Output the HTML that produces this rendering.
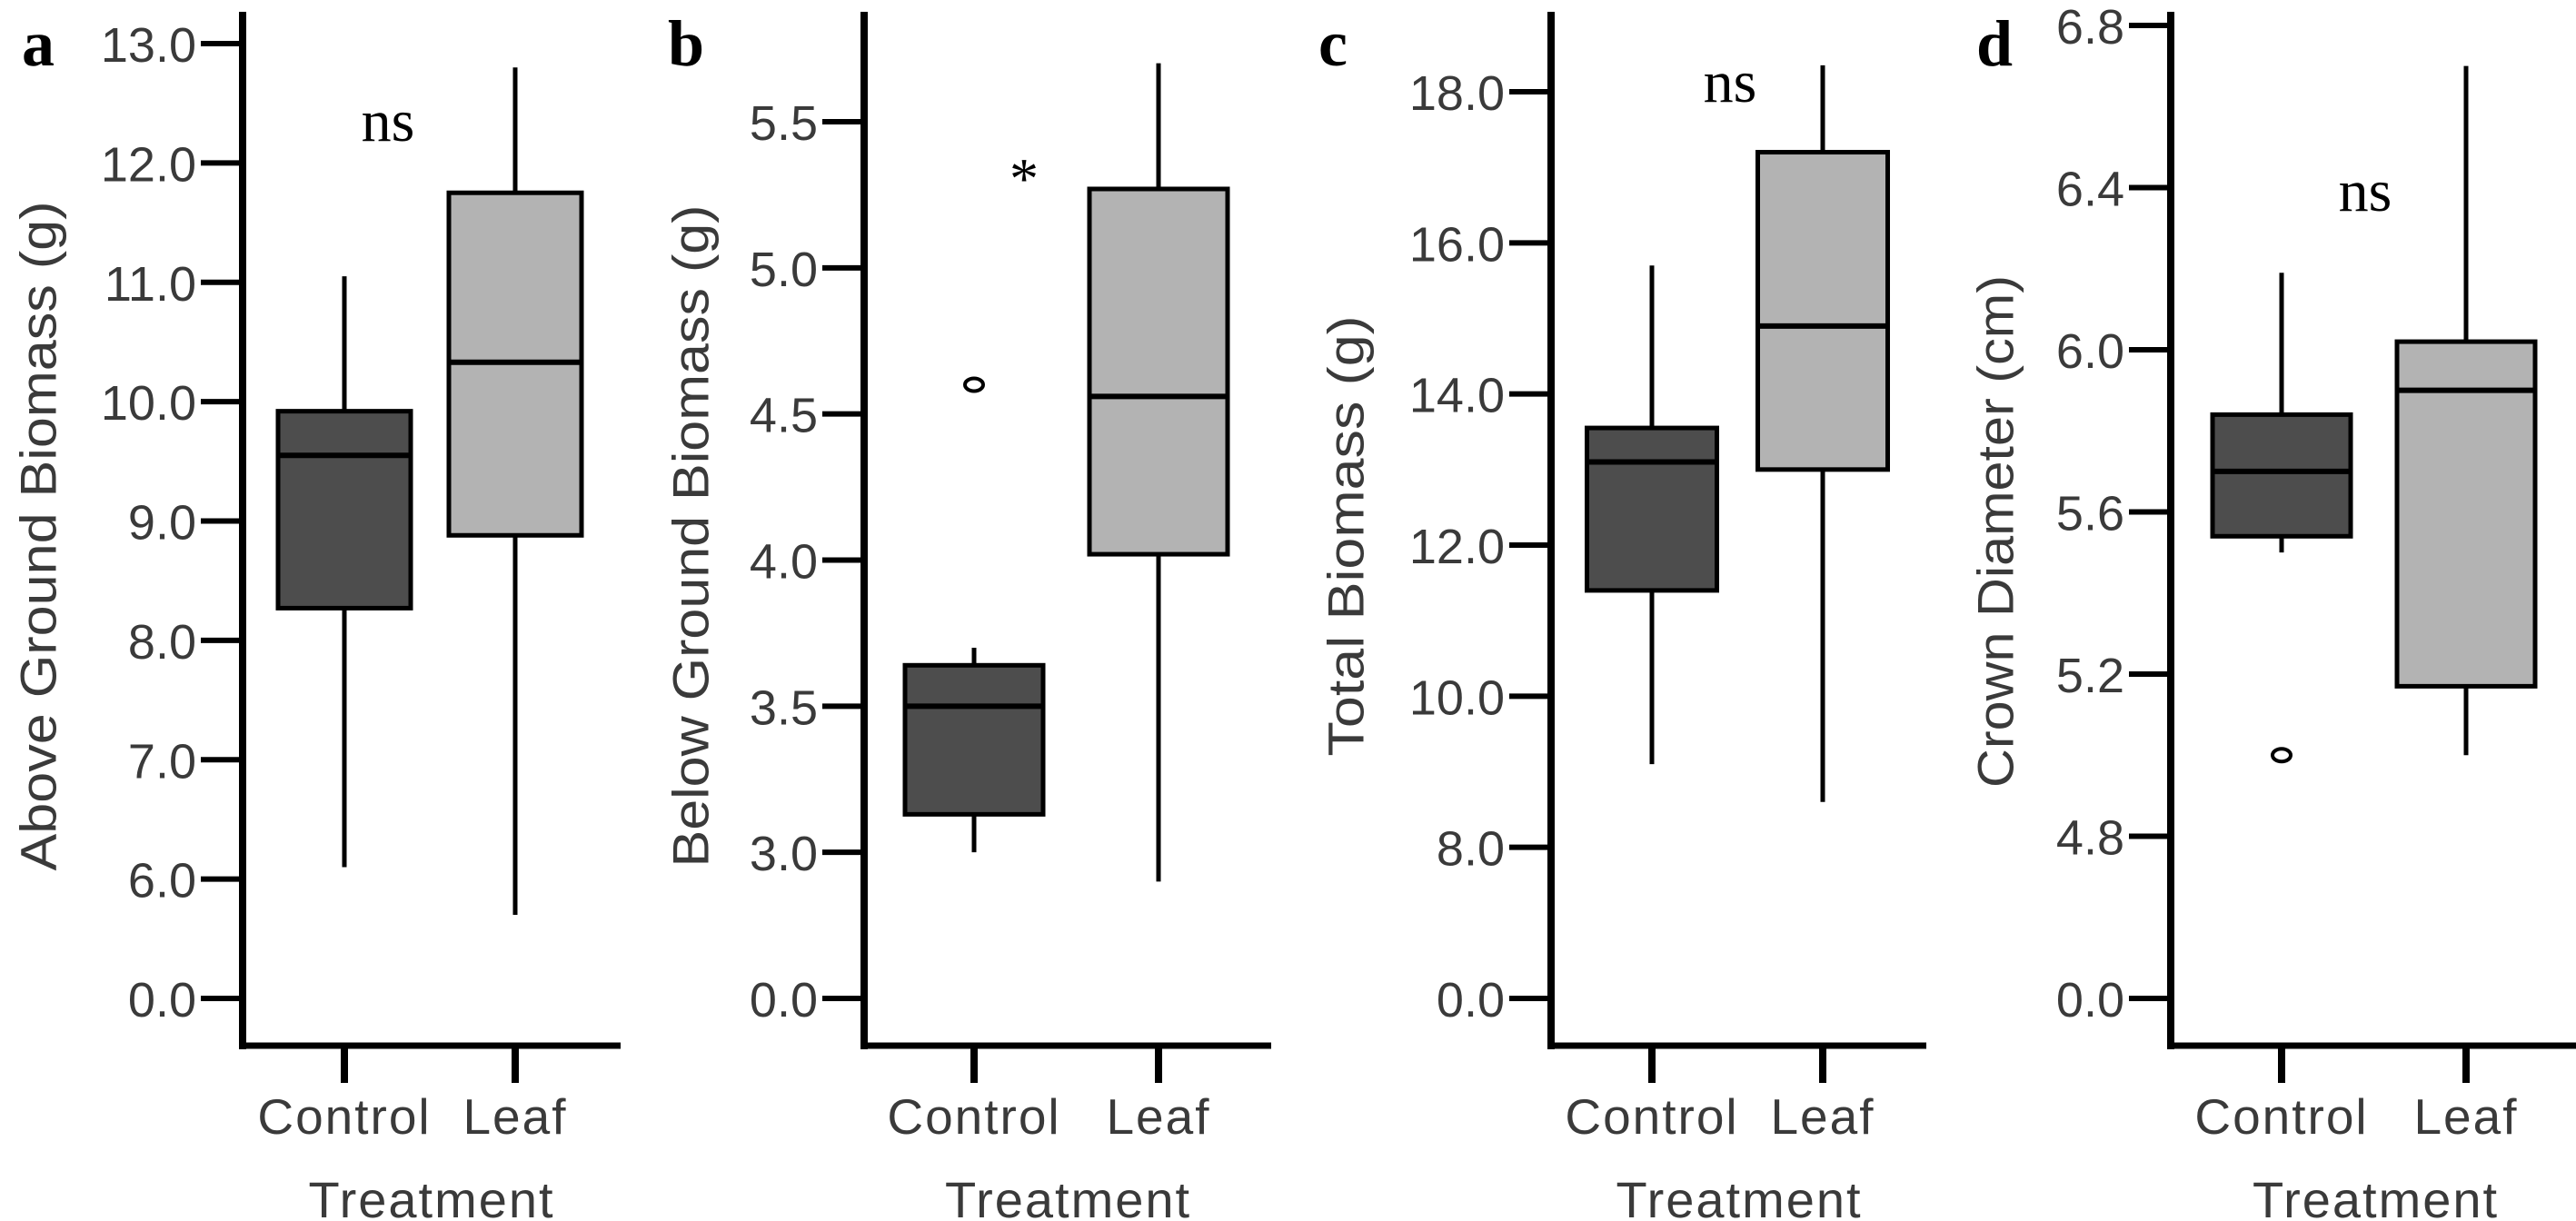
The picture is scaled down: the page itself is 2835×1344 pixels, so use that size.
<!DOCTYPE html>
<html><head><meta charset="utf-8"><style>
html,body{margin:0;padding:0;background:#fff;}
svg{display:block;}
</style></head><body>
<svg id="fig" width="2835" height="1344" viewBox="0 0 2835 1344" xmlns="http://www.w3.org/2000/svg"></svg>
<script>
// ---- data ----
const categories = ["Control", "Leaf"];
const panelLetters = ["a", "b", "c", "d"];
const yTitles = ["Above Ground Biomass (g)", "Below Ground Biomass (g)", "Total Biomass (g)", "Crown Diameter (cm)"];
const sigLabels = ["ns", "*", "ns", "ns"];
const ticksA = [13.0, 12.0, 11.0, 10.0, 9.0, 8.0, 7.0, 6.0, 0.0];
const ticksB = [5.5, 5.0, 4.5, 4.0, 3.5, 3.0, 0.0];
const ticksC = [18.0, 16.0, 14.0, 12.0, 10.0, 8.0, 0.0];
const ticksD = [6.8, 6.4, 6.0, 5.6, 5.2, 4.8, 0.0];
const tickLabelsA = ["13.0","12.0","11.0","10.0","9.0","8.0","7.0","6.0","0.0"];
const tickLabelsB = ["5.5","5.0","4.5","4.0","3.5","3.0","0.0"];
const tickLabelsC = ["18.0","16.0","14.0","12.0","10.0","8.0","0.0"];
const tickLabelsD = ["6.8","6.4","6.0","5.6","5.2","4.8","0.0"];
// [min, q1, median, q3, max] per category
const statsA = [[6.1, 8.27, 9.55, 9.92, 11.05], [5.7, 8.88, 10.33, 11.75, 12.8]];
const statsB = [[3.0, 3.13, 3.5, 3.64, 3.7], [2.9, 4.02, 4.56, 5.27, 5.7]];
const statsC = [[9.1, 11.4, 13.1, 13.55, 15.7], [8.6, 13.0, 14.9, 17.2, 18.35]];
const statsD = [[5.5, 5.54, 5.70, 5.84, 6.19], [5.0, 5.17, 5.9, 6.02, 6.7]];
const outliersA = [[], []];
const outliersB = [[4.6], []];
const outliersC = [[], []];
const outliersD = [[5.0], []];

// ---- layout ----
const NS = "http://www.w3.org/2000/svg";
const svg = document.getElementById("fig");
const fills = ["#4d4d4d", "#b3b3b3"];
const panels = [
  {ticks: ticksA, labels: tickLabelsA, stats: statsA, out: outliersA, axisX: 267, xEnd: 683, topY: 48, cx: [379, 567], bw: 146, letterX: 42, letterY: 72, sigX: 427, sigY: 155, titleX: 42, titleY: 590, titleLen: 737},
  {ticks: ticksB, labels: tickLabelsB, stats: statsB, out: outliersB, axisX: 951, xEnd: 1399, topY: 134, cx: [1072, 1275], bw: 152, letterX: 755, letterY: 72, sigX: 1127, sigY: 200, titleX: 760, titleY: 590, titleLen: 729},
  {ticks: ticksC, labels: tickLabelsC, stats: statsC, out: outliersC, axisX: 1707, xEnd: 2120, topY: 101, cx: [1818, 2006], bw: 143, letterX: 1467, letterY: 72, sigX: 1904, sigY: 112, titleX: 1481, titleY: 590, titleLen: 485},
  {ticks: ticksD, labels: tickLabelsD, stats: statsD, out: outliersD, axisX: 2389, xEnd: 2835, topY: 28, cx: [2511, 2714], bw: 152, letterX: 2195, letterY: 72, sigX: 2603, sigY: 232, titleX: 2196, titleY: 585, titleLen: 564}
];
const zeroY = 1099, axisY = 1151;

function el(tag, attrs, parent) {
  const e = document.createElementNS(NS, tag);
  for (const k in attrs) e.setAttribute(k, attrs[k]);
  (parent || svg).appendChild(e);
  return e;
}

panels.forEach((p, pi) => {
  const g = el("g", {});
  
  
  const n = p.ticks.length;
  const step = (zeroY - p.topY) / (n - 1);
  const tickPos = i => p.topY + i * step;
  const unit = step / (p.ticks[0] - p.ticks[1]);
  const yScale = v => v === 0 ? zeroY : p.topY + (p.ticks[0] - v) * unit;

  // y axis
  const ya = el("line", {x1: p.axisX, y1: 13, x2: p.axisX, y2: axisY + 4, stroke: "#000", "stroke-width": 8}, g);
  
  
  const xa = el("line", {x1: p.axisX - 4, y1: axisY, x2: p.xEnd, y2: axisY, stroke: "#000", "stroke-width": 7}, g);
  
  

  p.ticks.forEach((t, i) => {
    const y = tickPos(i);
    const tl = el("line", {x1: p.axisX - 46, y1: y, x2: p.axisX, y2: y, stroke: "#000", "stroke-width": 6}, g);
    
    
    const tx = el("text", {x: p.axisX - 51, y: y + 20, "text-anchor": "end", "font-family": "Liberation Sans, Arial, sans-serif", "font-size": 54, fill: "#3a3a3a"}, g);
    tx.textContent = p.labels[i];
    
    
  });

  categories.forEach((c, ci) => {
    const cx = p.cx[ci];
    const xt = el("line", {x1: cx, y1: axisY, x2: cx, y2: 1192, stroke: "#000", "stroke-width": 8}, g);
    
    
    const lab = el("text", {x: cx, y: 1248, "text-anchor": "middle", "font-family": "Liberation Sans, Arial, sans-serif", "font-size": 55, "letter-spacing": 2, fill: "#3a3a3a"}, g);
    lab.textContent = c;
    
    

    const s = p.stats[ci];
    const wl = el("line", {x1: cx, y1: yScale(s[0]), x2: cx, y2: yScale(s[4]), stroke: "#000", "stroke-width": 5}, g);
    
    
    const bx = el("rect", {x: cx - p.bw / 2, y: yScale(s[3]), width: p.bw, height: yScale(s[1]) - yScale(s[3]), fill: fills[ci], stroke: "#000", "stroke-width": 5}, g);
    
    
    const md = el("line", {x1: cx - p.bw / 2, y1: yScale(s[2]), x2: cx + p.bw / 2, y2: yScale(s[2]), stroke: "#000", "stroke-width": 6}, g);
    
    
    p.out[ci].forEach(o => {
      const oc = el("ellipse", {cx: cx, cy: yScale(o), rx: 10, ry: 7, fill: "none", stroke: "#000", "stroke-width": 4}, g);
      
      
    });
  });

  const xt = el("text", {x: (p.cx[0] + p.cx[1]) / 2 + 2, y: 1340, "text-anchor": "middle", "font-family": "Liberation Sans, Arial, sans-serif", "font-size": 56, "letter-spacing": 2, fill: "#3a3a3a"}, g);
  xt.textContent = "Treatment";
  
  

  const yt = el("text", {x: 0, y: 0, transform: `translate(${p.titleX},${p.titleY}) rotate(-90)`, "text-anchor": "middle", "dominant-baseline": "central", "font-family": "Liberation Sans, Arial, sans-serif", "font-size": 56, fill: "#3a3a3a", textLength: p.titleLen, lengthAdjust: "spacingAndGlyphs"}, g);
  yt.textContent = yTitles[pi];
  
  

  const lt = el("text", {x: p.letterX, y: p.letterY, "text-anchor": "middle", "font-family": "Liberation Serif, Times New Roman, serif", "font-size": 72, "font-weight": "bold", fill: "#000"}, g);
  lt.textContent = panelLetters[pi];
  
  

  const sg = el("text", {x: p.sigX, y: p.sigY + (sigLabels[pi] === "*" ? 18 : 0), "text-anchor": "middle", "font-family": "Liberation Serif, Times New Roman, serif", "font-size": sigLabels[pi] === "*" ? 64 : 66, fill: "#000"}, g);
  sg.textContent = sigLabels[pi];
  
  
});
</script>
</body></html>
